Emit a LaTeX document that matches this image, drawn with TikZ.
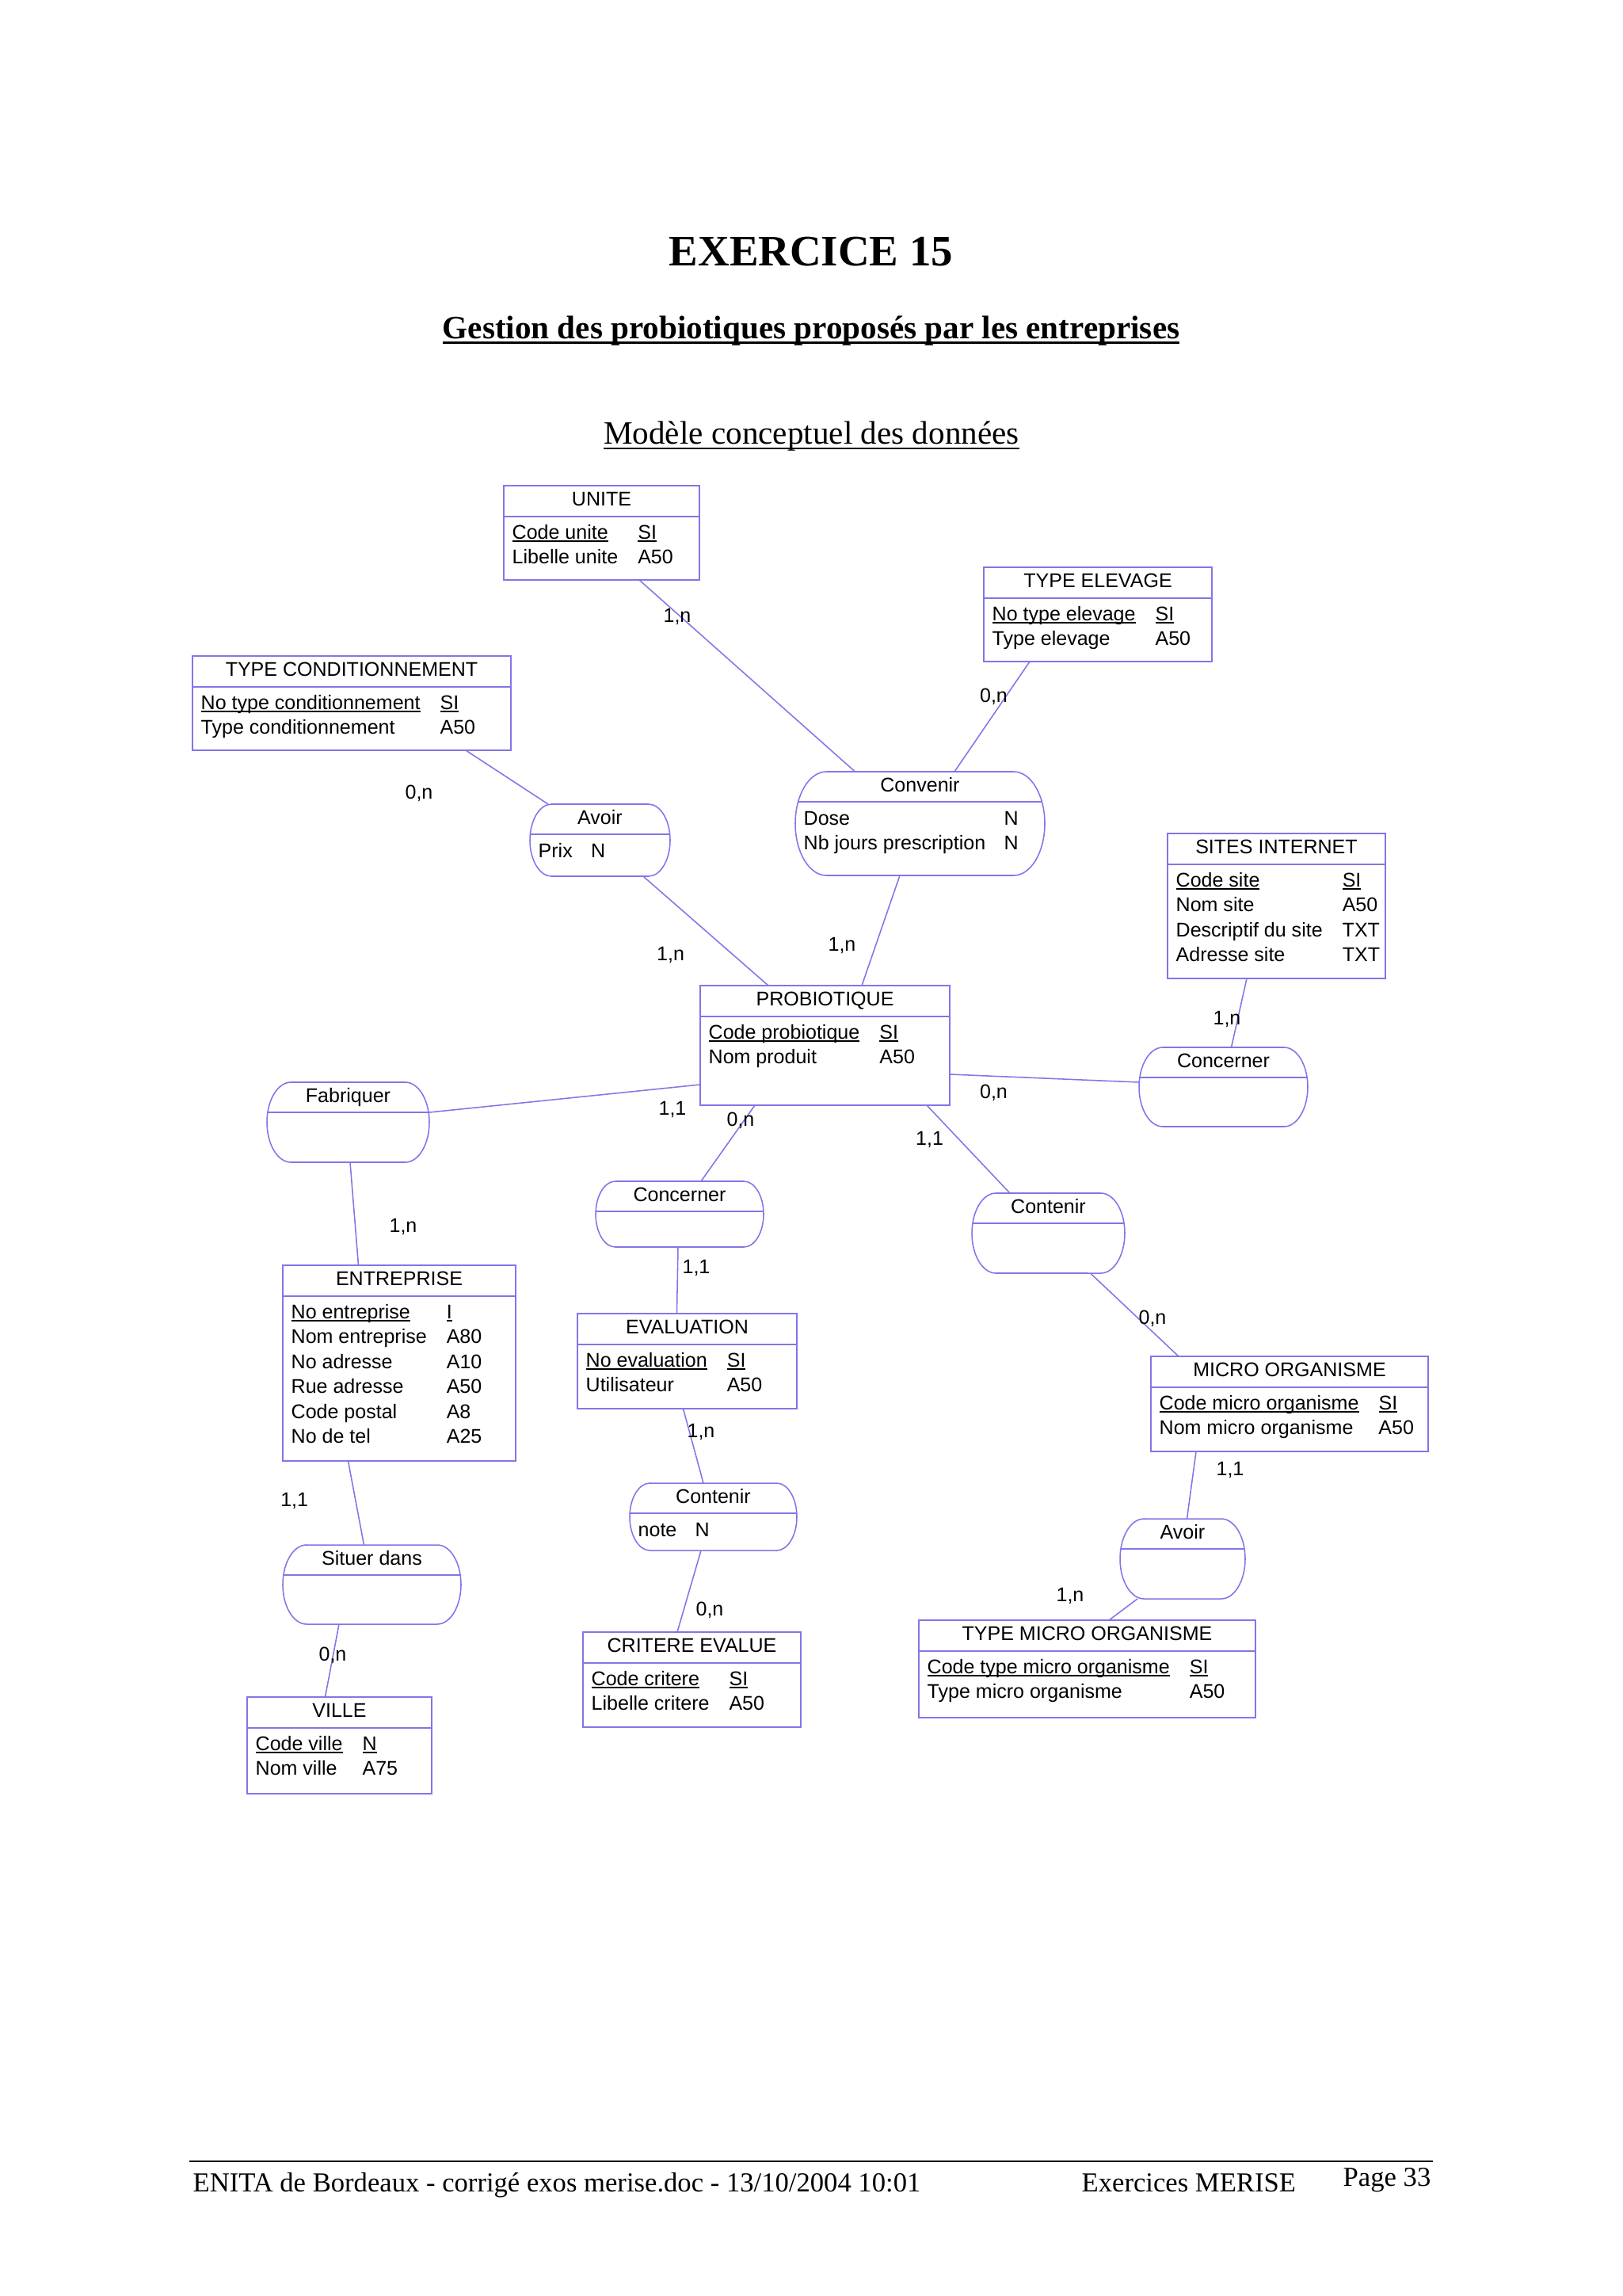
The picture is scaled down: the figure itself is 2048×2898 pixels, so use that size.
\documentclass[tikz,border=0pt]{standalone}
\usepackage{fontspec}
\setmainfont{Liberation Serif}
\newfontfamily\arial{Liberation Sans}
\definecolor{lav}{RGB}{128,118,232}
\newcommand{\pix}{0.1025mm}
\newlength{\largeur}
\newcommand{\souligne}[3]{\settowidth{\largeur}{#3}\rlap{\rule[#1]{\largeur}{#2}}#3}
\newcommand{\idf}[1]{\souligne{-1.1pt}{0.45pt}{#1}}
\newcommand{\boite}{\arial\fontsize{7.3pt}{9.2pt}\selectfont}
\newcommand{\entite}[7]{%
  \node[entite, minimum width=#4*\pix, minimum height=#5*\pix] (#1) at (#2,#3) {};
  \draw[lien] ([yshift=-39*\pix]#1.north west) -- ([yshift=-39*\pix]#1.north east);
  \node[titre] (#1-t) at ([yshift=-25*\pix]#1.north) {#6};
  \node[attr] (#1-a) at ([xshift=10*\pix, yshift=-67*\pix]#1.north west)
    {\begin{tabular}[t]{@{}l@{\hspace{7.3pt}}l@{}}#7\end{tabular}};
}
\newcommand{\assoc}[7]{%
  \node[forme, minimum width=#4*\pix, minimum height=#5*\pix] (#1) at (#2,#3) {};
  \pgfmathsetmacro{\arx}{0.3*#5*0.1025}
  \pgfmathsetmacro{\ary}{0.5*#5*0.1025}
  \pgfmathsetmacro{\ady}{(0.5*#5-38)/(0.5*#5)}
  \pgfmathsetmacro{\ainset}{\arx*(1-sqrt(1-\ady*\ady))}
  \draw[lien] ([xshift=\arx mm]#1.north west) -- ([xshift=-\arx mm]#1.north east)
    arc[start angle=90, end angle=-90, x radius=\arx mm, y radius=\ary mm]
    -- ([xshift=\arx mm]#1.south west)
    arc[start angle=270, end angle=90, x radius=\arx mm, y radius=\ary mm] -- cycle;
  \draw[lien] ([xshift=\ainset mm, yshift=-38*\pix]#1.north west)
    -- ([xshift=-\ainset mm, yshift=-38*\pix]#1.north east);
  \node[titre] (#1-t) at ([yshift=-25*\pix]#1.north) {#6};
  \node[attr] (#1-a) at ([xshift=10*\pix, yshift=-67*\pix]#1.north west)
    {\begin{tabular}[t]{@{}l@{\hspace{6.8pt}}l@{}}#7\end{tabular}};
}

\begin{document}
\begin{tikzpicture}[x=\pix, y=-\pix,
    lien/.style={draw=lav, line width=0.45pt},
    entite/.style={lien, rectangle, inner sep=0pt, outer sep=0pt},
    forme/.style={rectangle, inner sep=0pt, outer sep=0pt},
    titre/.style={font=\boite, anchor=base, inner sep=0pt},
    attr/.style={font=\boite, anchor=base west, inner sep=0pt},
    card/.style={font=\boite, anchor=base, inner sep=0pt},
    pied/.style={font=\fontsize{10.1pt}{12pt}\selectfont, anchor=base west, inner sep=0pt}]
  \useasboundingbox (0,0) rectangle (2048,2898);
  \fill[white] (0,0) rectangle (2048,2898);

  \node[font=\bfseries\fontsize{16pt}{19pt}\selectfont, anchor=base] (exo) at (1024,335) {EXERCICE 15};
  \node[font=\bfseries\fontsize{12pt}{14pt}\selectfont, anchor=base] (sujet) at (1024,427)
    {\souligne{-1.9pt}{0.6pt}{Gestion des probiotiques proposés par les entreprises}};
  \node[font=\fontsize{12pt}{14pt}\selectfont, anchor=base] (mcd) at (1024.5,560)
    {\souligne{-2pt}{0.45pt}{Modèle conceptuel des données}};

  \entite{unite}{759.5}{672.5}{247}{119}{UNITE}{\idf{Code unite} & \idf{SI}\\ Libelle unite & A50}
  \entite{elevage}{1386}{775.5}{288}{119}{TYPE ELEVAGE}{\idf{No type elevage} & \idf{SI}\\ Type elevage & A50}
  \entite{condit}{444}{887.5}{402}{119}{TYPE CONDITIONNEMENT}{\idf{No type conditionnement} & \idf{SI}\\ Type conditionnement & A50}
  \entite{sites}{1611.5}{1143.5}{275}{183}{SITES INTERNET}{\idf{Code site} & \idf{SI}\\ Nom site & A50\\ Descriptif du site & TXT\\ Adresse site & TXT}
  \entite{probio}{1041.5}{1319.5}{315}{151}{PROBIOTIQUE}{\idf{Code probiotique} & \idf{SI}\\ Nom produit & A50}
  \entite{entreprise}{504}{1720.5}{294}{247}{ENTREPRISE}{\idf{No entreprise} & \idf{I}\\ Nom entreprise & A80\\ No adresse & A10\\ Rue adresse & A50\\ Code postal & A8\\ No de tel & A25}
  \entite{evaluation}{867.5}{1718}{277}{120}{EVALUATION}{\idf{No evaluation} & \idf{SI}\\ Utilisateur & A50}
  \entite{micro}{1628}{1772}{350}{120}{MICRO ORGANISME}{\idf{Code micro organisme} & \idf{SI}\\ Nom micro organisme & A50}
  \entite{typemicro}{1372.5}{2106.5}{425}{123}{TYPE MICRO ORGANISME}{\idf{Code type micro organisme} & \idf{SI}\\ Type micro organisme & A50}
  \entite{critere}{873.5}{2120}{275}{120}{CRITERE EVALUE}{\idf{Code critere} & \idf{SI}\\ Libelle critere & A50}
  \entite{ville}{428.5}{2203}{233}{122}{VILLE}{\idf{Code ville} & \idf{N}\\ Nom ville & A75}

  \assoc{avoir1}{757.5}{1060.5}{177}{91}{Avoir}{Prix & N}
  \assoc{convenir}{1161.5}{1039.5}{315}{131}{Convenir}{Dose & N\\ Nb jours prescription & N}
  \assoc{concerner1}{1544.5}{1372}{213}{100}{Concerner}{}
  \assoc{fabriquer}{439.5}{1416.5}{205}{101}{Fabriquer}{}
  \assoc{concerner2}{858}{1532.5}{212}{83}{Concerner}{}
  \assoc{contenir1}{1323.5}{1556.5}{193}{101}{Contenir}{}
  \assoc{situer}{469.5}{2000}{225}{100}{Situer dans}{}
  \assoc{contenir2}{900.5}{1914.5}{211}{85}{Contenir}{note & N}
  \assoc{avoir2}{1493}{1967.5}{158}{101}{Avoir}{}

  \draw[lien] ([xshift=47.5*\pix]unite.south) -- ([xshift=-82*\pix]convenir.north);
  \draw[lien] ([xshift=-86*\pix]elevage.south) -- ([xshift=43.5*\pix]convenir.north);
  \draw[lien] ([xshift=144*\pix]condit.south) -- ([xshift=-65.5*\pix]avoir1.north);
  \draw[lien] ([xshift=54.5*\pix]avoir1.south) -- ([xshift=-71.5*\pix]probio.north);
  \draw[lien] ([xshift=-25.5*\pix]convenir.south) -- ([xshift=46.5*\pix]probio.north);
  \draw[lien] ([xshift=-37.5*\pix]sites.south) -- ([xshift=10*\pix]concerner1.north);
  \draw[lien] ([yshift=-36.5*\pix]probio.east) -- ([yshift=6*\pix]concerner1.west);
  \draw[lien] ([yshift=12.5*\pix]fabriquer.east) -- ([yshift=-49.5*\pix]probio.west);
  \draw[lien] ([xshift=-88.5*\pix]probio.south) -- ([xshift=27*\pix]concerner2.north);
  \draw[lien] ([xshift=128.5*\pix]probio.south) -- ([xshift=-48.5*\pix]contenir1.north);
  \draw[lien] ([xshift=2.5*\pix]fabriquer.south) -- ([xshift=-51.5*\pix]entreprise.north);
  \draw[lien] ([xshift=-2*\pix]concerner2.south) -- ([xshift=-13*\pix]evaluation.north);
  \draw[lien] ([xshift=-5*\pix]evaluation.south) -- ([xshift=-12.5*\pix]contenir2.north);
  \draw[lien] ([xshift=-15.5*\pix]contenir2.south) -- ([xshift=-18.5*\pix]critere.north);
  \draw[lien] ([xshift=-64.5*\pix]entreprise.south) -- ([xshift=-10*\pix]situer.north);
  \draw[lien] ([xshift=-41.5*\pix]situer.south) -- ([xshift=-18*\pix]ville.north);
  \draw[lien] ([xshift=53*\pix]contenir1.south) -- ([xshift=-140*\pix]micro.north);
  \draw[lien] ([xshift=-118*\pix]micro.south) -- ([xshift=5.5*\pix]avoir2.north);
  \draw[lien] ([xshift=-57*\pix]avoir2.south) -- ([xshift=27.5*\pix]typemicro.north);

  \node[card] (c1) at (855,785) {1,n};
  \node[card] (c2) at (1254.5,886) {0,n};
  \node[card] (c3) at (529,1008) {0,n};
  \node[card] (c4) at (846.6,1212) {1,n};
  \node[card] (c5) at (1063,1200) {1,n};
  \node[card] (c6) at (1549,1293) {1,n};
  \node[card] (c7) at (1254.5,1386) {0,n};
  \node[card] (c8) at (849,1407) {1,1};
  \node[card] (c9) at (935,1421) {0,n};
  \node[card] (c10) at (1173.6,1445) {1,1};
  \node[card] (c11) at (509,1555) {1,n};
  \node[card] (c12) at (879,1607) {1,1};
  \node[card] (c13) at (885,1814) {1,n};
  \node[card] (c14) at (896,2039) {0,n};
  \node[card] (c15) at (371.7,1901) {1,1};
  \node[card] (c16) at (420,2096) {0,n};
  \node[card] (c17) at (1455,1671) {0,n};
  \node[card] (c18) at (1553,1862) {1,1};
  \node[card] (c19) at (1351,2021) {1,n};

  \draw[line width=0.8pt] (238.6,2728) -- (1809,2728);
  \node[pied] (enita) at (243,2766) {ENITA de Bordeaux - corrigé exos merise.doc - 13/10/2004 10:01};
  \node[pied] (merise) at (1365,2766) {Exercices MERISE};
  \node[pied] (page) at (1695,2759) {Page 33};
\end{tikzpicture}
\end{document}
